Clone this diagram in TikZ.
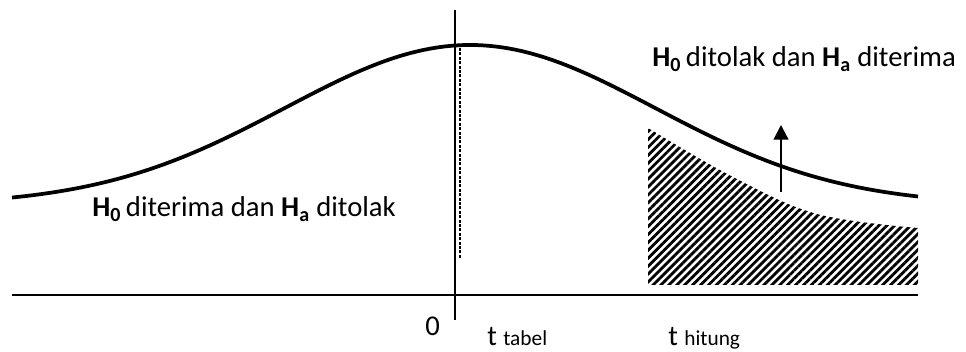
\documentclass[tikz,border=0pt]{standalone}
\usepackage{fontspec}
\setmainfont{Carlito}
\usepackage{tikz}
\usetikzlibrary{arrows.meta, patterns.meta}

\newcommand{\hyp}[1]{\textbf{H\textsubscript{#1}}}

\begin{document}
\begin{tikzpicture}[
    x=0.75pt, y=-0.75pt,
    axis/.style={line width=1.1pt},
    curve/.style={line width=2.8pt},
    lbl/.style={font=\fontsize{21.5}{24}\selectfont, inner sep=0pt},
    arrow/.style={-{Triangle[length=11pt, width=11pt]}, line width=1.7pt},
    hatch/.style={pattern={Lines[angle=45, distance=4.2pt, line width=2.1pt]}}
]
    \useasboundingbox (0,0) rectangle (966,352);

    \coordinate (xl) at (12,295);
    \coordinate (xr) at (918,295);
    \coordinate (yt) at (455,10);
    \coordinate (yb) at (455,320);
    \coordinate (dt) at (460,48);
    \coordinate (db) at (460,258);
    \coordinate (ab) at (781,192);
    \coordinate (at) at (781,125);

    \fill[hatch] (648,285) -- plot[smooth, tension=0.6] coordinates {(648,128) (733,177) (817,214) (918,228)} -- (918,285) -- cycle;

    \draw[axis] (xl) -- (xr);
    \draw[axis] (yt) -- (yb);
    \draw[curve] plot[domain=12:918, samples=120] (\x, {205-160*exp(-0.5*((\x-470)/185)^2)});
    \draw[line width=2.2pt, dash pattern=on 2.2pt off 1.1pt] (dt) -- (db);
    \draw[arrow] (ab) -- (at);

    \node[lbl, anchor=base west] (tolak) at (652,67) {\hyp{0}\,ditolak dan \hyp{a} diterima};
    \node[lbl, anchor=base west] (terima) at (92,217) {\hyp{0}\,diterima dan \hyp{a} ditolak};
    \node[lbl, anchor=base west] (nol) at (425,335) {0};
    \node[lbl, anchor=base west] (ttab) at (487,345) {t {\fontsize{16}{18}\selectfont tabel}};
    \node[lbl, anchor=base west] (thit) at (668,345) {t {\fontsize{16}{18}\selectfont hitung}};
\end{tikzpicture}
\end{document}
